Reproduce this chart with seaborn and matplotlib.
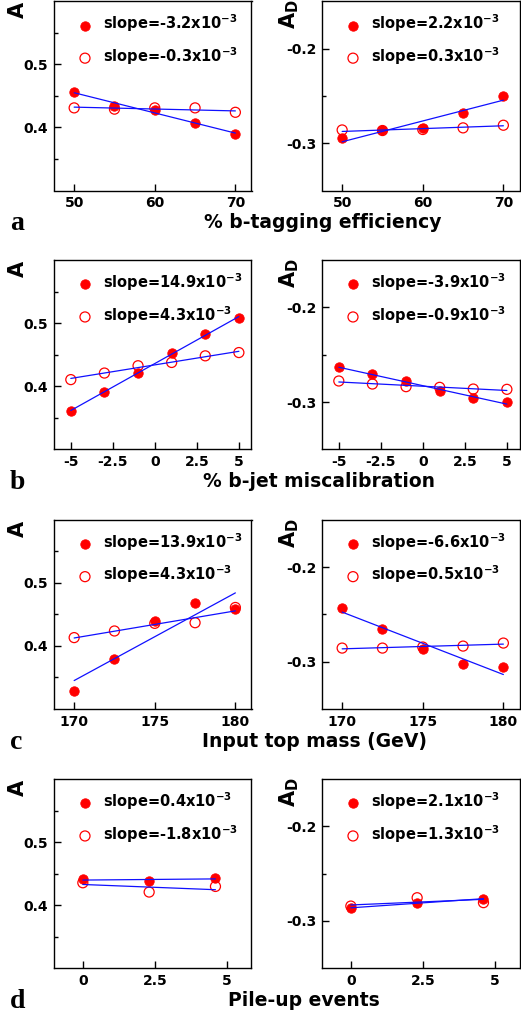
import numpy as np
import pandas as pd
import seaborn as sns
import matplotlib
matplotlib.use("Agg")
import matplotlib.pyplot as plt
from matplotlib.ticker import FixedLocator

sns.set_style("ticks")
plt.rcParams['font.family'] = ['DejaVu Sans']
plt.rcParams['font.weight'] = 'bold'
plt.rcParams['axes.unicode_minus'] = False
plt.rcParams['mathtext.fontset'] = 'dejavusans'
plt.rcParams['mathtext.default'] = 'bf'
for key in ('text.color', 'axes.labelcolor', 'xtick.color', 'ytick.color',
            'axes.edgecolor'):
    plt.rcParams[key] = 'black'

# ---- (a) b-tagging efficiency ----
x_btag = [50, 55, 60, 65, 70]
A_btag_full = [0.456, 0.434, 0.428, 0.407, 0.390]
A_btag_open = [0.431, 0.429, 0.431, 0.431, 0.424]
AD_btag_full = [-0.295, -0.286, -0.2835, -0.268, -0.250]
AD_btag_open = [-0.286, -0.2866, -0.2855, -0.2838, -0.281]
slopes_btag = [-3.2, -0.3, 2.2, 0.3]
xticks_btag = ["50", "60", "70"]

# ---- (b) b-jet miscalibration ----
x_bcal = [-5, -3, -1, 1, 3, 5]
A_bcal_full = [0.361, 0.3906, 0.4204, 0.4524, 0.4832, 0.5084]
A_bcal_open = [0.4105, 0.4209, 0.4325, 0.4377, 0.4482, 0.4534]
AD_bcal_full = [-0.2627, -0.2704, -0.2782, -0.2887, -0.2961, -0.3004]
AD_bcal_open = [-0.2778, -0.281, -0.2838, -0.2845, -0.2863, -0.2866]
slopes_bcal = [14.9, 4.3, -3.9, -0.9]
xticks_bcal = ["-5", "-2.5", "0", "2.5", "5"]

# ---- (c) input top mass ----
x_mass = [170, 172.5, 175, 177.5, 180]
A_mass_full = [0.328, 0.379, 0.440, 0.468, 0.458]
A_mass_open = [0.4132, 0.4237, 0.4358, 0.4368, 0.461]
AD_mass_full = [-0.2433, -0.2651, -0.2863, -0.3021, -0.3060]
AD_mass_open = [-0.2856, -0.2856, -0.2845, -0.2835, -0.2803]
slopes_mass = [13.9, 4.3, -6.6, 0.5]
xticks_mass = ["170", "175", "180"]

# ---- (d) pile-up ----
x_pu = [0, 2.3, 4.6]
A_pu_full = [0.4414, 0.4387, 0.4424]
A_pu_open = [0.4356, 0.4209, 0.4298]
AD_pu_full = [-0.2859, -0.2810, -0.2768]
AD_pu_open = [-0.2842, -0.2754, -0.2806]
slopes_pu = [0.4, -1.8, 2.1, 1.3]
xticks_pu = ["0", "2.5", "5"]

xlabels = ["% b-tagging efficiency", "% b-jet miscalibration",
           "Input top mass (GeV)", "Pile-up events"]
letters = ["a", "b", "c", "d"]

rows = [
    (x_btag, A_btag_full, A_btag_open, AD_btag_full, AD_btag_open, slopes_btag,
     xticks_btag, (47.5, 72.0)),
    (x_bcal, A_bcal_full, A_bcal_open, AD_bcal_full, AD_bcal_open, slopes_bcal,
     xticks_bcal, (-6.0, 5.75)),
    (x_mass, A_mass_full, A_mass_open, AD_mass_full, AD_mass_open, slopes_mass,
     xticks_mass, (168.75, 181.0)),
    (x_pu, A_pu_full, A_pu_open, AD_pu_full, AD_pu_open, slopes_pu,
     xticks_pu, (-1.0, 5.85)),
]

W, H = 521, 1017
fig = plt.figure(figsize=(W / 100, H / 100), dpi=100)

ax_left_px = [54, 322]
ax_w_px = 197.5
ax_h_px = 189.2
row_bottom_px = [190.5, 449.3, 709.0, 968.3]
xlabel_cx_px = [323, 319, 315, 304]

RED = "#ff0000"
BLUE = "#1010ff"


def draw_panel(ax, x, y_full, y_open, s_full, s_open, ylim, yticks, yminor):
    df = pd.DataFrame({"x": x, "full": y_full, "open": y_open})
    sns.scatterplot(data=df, x="x", y="full", ax=ax, color=RED, edgecolor=RED,
                    s=46, linewidth=0.6, zorder=2)
    sns.scatterplot(data=df, x="x", y="open", ax=ax, facecolor="none",
                    edgecolor=RED, s=52, linewidth=0.9, zorder=2)
    # straight-line fits through the centroid with the quoted slopes
    xs = np.array([min(x), max(x)], dtype=float)
    for ycol, s in (("full", s_full), ("open", s_open)):
        xb, yb = df["x"].mean(), df[ycol].mean()
        fit = pd.DataFrame({"x": xs, "y": yb + s * 1e-3 * (xs - xb)})
        sns.lineplot(data=fit, x="x", y="y", ax=ax, color=BLUE, lw=0.9,
                     zorder=3)
    ax.set_ylim(*ylim)
    ax.yaxis.set_major_locator(FixedLocator(yticks))
    ax.yaxis.set_minor_locator(FixedLocator(yminor))
    ax.set_yticklabels([f"{v:.1f}" for v in yticks])
    ax.set_xlabel("")
    ax.set_ylabel("")
    handles = ax.collections[:2]
    fmt = lambda v: f"slope={v:.1f}x10$^{{-3}}$"
    ax.legend(handles=handles, labels=[fmt(s_full), fmt(s_open)],
              loc="upper left", bbox_to_anchor=(0.12, 0.94), frameon=False,
              handlelength=1.0, handletextpad=0.75, labelspacing=0.75,
              borderpad=0, borderaxespad=0,
              prop={"weight": "bold", "size": 10.5})


for r, (x, Af, Ao, Df, Do, slopes, xtl, xlim) in enumerate(rows):
    bottom = 1 - row_bottom_px[r] / H
    axes = []
    for c in range(2):
        ax = fig.add_axes([ax_left_px[c] / W, bottom, ax_w_px / W, ax_h_px / H])
        axes.append(ax)
    axA, axD = axes
    draw_panel(axA, x, Af, Ao, slopes[0], slopes[1], (0.3, 0.6),
               [0.4, 0.5], [0.35, 0.45, 0.55])
    draw_panel(axD, x, Df, Do, slopes[2], slopes[3], (-0.35, -0.15),
               [-0.3, -0.2], [-0.25])
    for ax in axes:
        ax.set_xlim(*xlim)
        ax.xaxis.set_major_locator(FixedLocator([float(t) for t in xtl]))
        ax.set_xticklabels(xtl)
        ax.tick_params(axis="both", which="major", direction="in", length=5,
                       width=1, labelsize=10, pad=4, top=False, right=False,
                       colors="black")
        ax.tick_params(axis="y", which="minor", direction="in", length=3,
                       width=1, right=False, colors="black")
        for sp in ax.spines.values():
            sp.set_linewidth(1.0)
            sp.set_color("black")
        for lab in ax.get_xticklabels() + ax.get_yticklabels():
            lab.set_fontweight("bold")
    axA.text(-0.185, 0.952, "A", transform=axA.transAxes, rotation=90,
             ha="center", va="center", fontsize=15, fontweight="bold")
    axD.text(-0.165, 0.93, "A$_\\mathbf{D}$", transform=axD.transAxes,
             rotation=90, ha="center", va="center", fontsize=15,
             fontweight="bold")
    base_y = 1 - (row_bottom_px[r] + 38) / H
    fig.text(xlabel_cx_px[r] / W, base_y, xlabels[r], ha="center",
             va="baseline", fontsize=13.5, fontweight="bold")
    fig.text(10 / W, 1 - (row_bottom_px[r] + 40) / H, letters[r],
             ha="left", va="baseline", fontsize=20, fontweight="bold",
             family="Liberation Serif")

fig.savefig("out.png", dpi=100)
